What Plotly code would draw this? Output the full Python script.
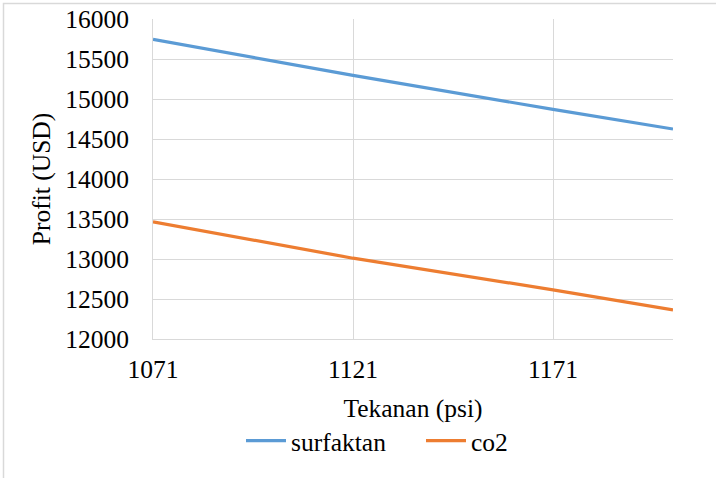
import plotly.graph_objects as go

# Pressure (psi) and profit (USD) for the two injection scenarios
tekanan = [1071, 1121, 1171, 1201]
surfaktan = [15745, 15295, 14870, 14625]
co2 = [13465, 13010, 12615, 12365]

FONT = "Liberation Serif"
FS = 25.5
GRID = "#d9d9d9"

fig = go.Figure()
fig.add_trace(go.Scatter(x=tekanan, y=surfaktan, name="surfaktan", mode="lines",
                         line=dict(color="#5B9BD5", width=3.2)))
fig.add_trace(go.Scatter(x=tekanan, y=co2, name="co2", mode="lines",
                         line=dict(color="#ED7D31", width=3.2)))

W, H = 716, 478
L, R, T, B = 153, 43, 19, 139
pw, ph = W - L - R, H - T - B


def px_x(p):
    return (p - L) / pw


def px_y(p):
    return (H - B - p) / ph


tick_font = dict(family=FONT, size=FS, color="black")

fig.update_layout(
    width=W, height=H,
    margin=dict(l=L, r=R, t=T, b=B, autoexpand=False),
    paper_bgcolor="white", plot_bgcolor="white",
    font=tick_font,
    showlegend=True,
    legend=dict(orientation="h", x=px_x(241), xanchor="left", y=px_y(441), yanchor="middle",
                font=tick_font, itemwidth=40, tracegroupgap=0, entrywidth=125),
    xaxis=dict(range=[1071, 1201], tick0=1071, dtick=50, tickformat="d", automargin=False,
               showgrid=True, gridcolor=GRID, gridwidth=1, zeroline=False,
               showline=True, linecolor=GRID, linewidth=1,
               ticks="", ticklabelstandoff=7, tickfont=tick_font,
               title=dict(text="Tekanan (psi)", standoff=16, font=tick_font)),
    yaxis=dict(range=[12000, 16000], dtick=500, tickformat="d", automargin=False,
               showgrid=True, gridcolor=GRID, gridwidth=1, zeroline=False,
               showline=True, linecolor=GRID, linewidth=1,
               ticks="", ticklabelstandoff=18, tickfont=tick_font,
               title=dict(text="Profit (USD)", standoff=7, font=tick_font)),
    shapes=[dict(type="rect", xref="paper", yref="paper",
                 x0=px_x(3.5), x1=px_x(W + 5), y0=px_y(H + 5), y1=px_y(3.5),
                 line=dict(color=GRID, width=1.5), fillcolor="rgba(0,0,0,0)",
                 layer="below")],
)

fig.write_html("out.html")
